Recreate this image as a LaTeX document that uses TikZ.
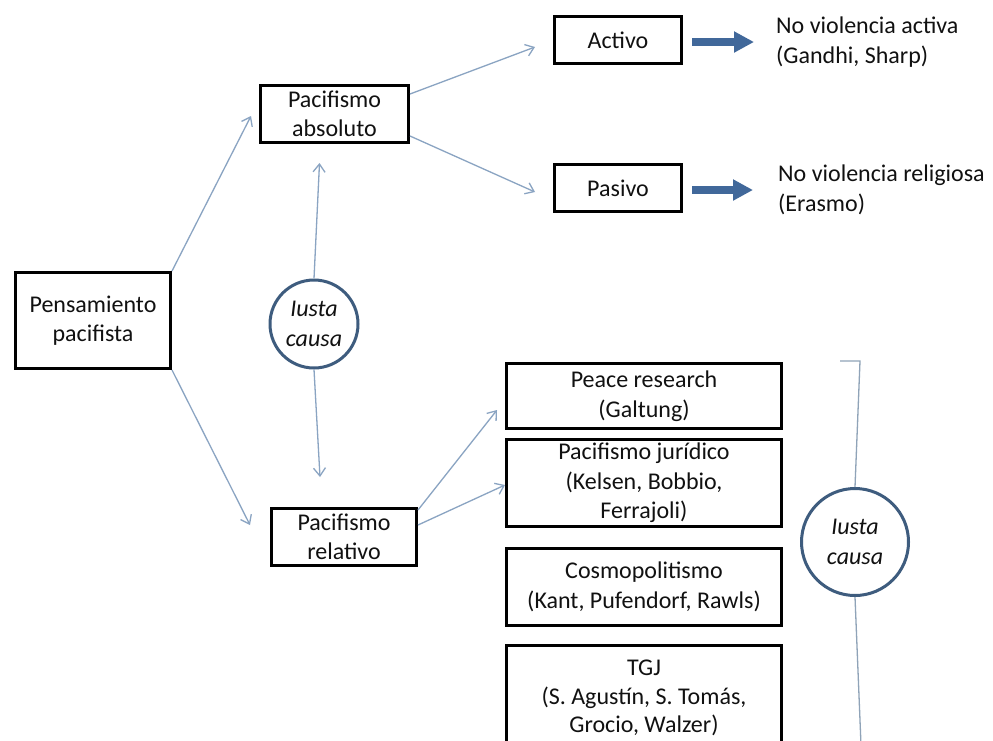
\documentclass[tikz,border=0pt]{standalone}
\usepackage{fontspec}
\setmainfont{Carlito}
\usetikzlibrary{arrows.meta,calc}
\definecolor{thinarrow}{HTML}{8AA4C2}
\definecolor{thickarrow}{HTML}{41689A}
\definecolor{circcol}{HTML}{3E5C7E}
\definecolor{bracketcol}{HTML}{8FA3B8}
\definecolor{txt}{HTML}{111111}
\begin{document}
\begin{tikzpicture}[x=1pt,y=-1pt,
  font=\fontsize{24}{29.5}\selectfont,
  box/.style={draw=black, line width=3pt, align=center, inner sep=0pt, text=txt},
  thinarr/.style={draw=thinarrow, line width=1.3pt, -{Straight Barb[length=8pt,width=12pt]}},
  thickarr/.style={draw=thickarrow, line width=8pt, -{Triangle[length=20pt,width=20pt]}},
  circnode/.style={circle, draw=circcol, line width=3pt, inner sep=0pt, align=center, text=txt,
    font=\fontsize{24}{30}\selectfont\itshape},
  bracket/.style={draw=bracketcol, line width=1.3pt},
  plaintext/.style={anchor=west, align=left, inner sep=0pt, text=txt}]
\clip (0,0) rectangle (993,740);
\fill[white] (0,0) rectangle (993,740);

\node[box, minimum width=155pt, minimum height=96pt] (pens) at (93,320.5) {Pensamiento\\pacifista};
\node[box, minimum width=148pt, minimum height=57pt] (abs) at (334.5,114) {Pacifismo\\absoluto};
\node[box, minimum width=127pt, minimum height=47pt] (activo) at (618,40) {Activo};
\node[box, minimum width=127pt, minimum height=47pt] (pasivo) at (618,188) {Pasivo};
\node[box, minimum width=145pt, minimum height=57pt] (rel) at (344,537) {Pacifismo\\relativo};
\node[box, minimum width=275pt, minimum height=65pt] (peace) at (644,396) {Peace research\\(Galtung)};
\node[box, minimum width=275pt, minimum height=87pt] (jur) at (644,483) {Pacifismo jurídico\\(Kelsen, Bobbio,\\Ferrajoli)};
\node[box, minimum width=275pt, minimum height=77pt] (cosmo) at (644,587) {Cosmopolitismo\\(Kant, Pufendorf, Rawls)};
\node[box, minimum width=275pt, minimum height=106pt, font=\fontsize{24}{28.5}\selectfont] (tgj) at (644,698) {TGJ\\(S. Agustín, S. Tomás,\\Grocio, Walzer)};

\node[plaintext] (acttxt) at (776,42) {No violencia activa\\(Gandhi, Sharp)};
\node[plaintext] (pastxt) at (778,190) {No violencia religiosa\\(Erasmo)};

\node[circnode, minimum size=88pt] (c1) at (314,324) {Iusta\\causa};
\node[circnode, minimum size=107pt] (c2) at (855,542) {Iusta\\causa};

% thin arrows
\draw[thinarr] (pens.north east) -- ($(abs.west)+(-8,2)$);
\draw[thinarr] (pens.south east) -- ($(rel.west)+(-20,-12)$);
\draw[thinarr] (c1.north) -- ($(abs.south)+(-15,19)$);
\draw[thinarr] (c1.south) -- ($(rel.north)+(-24,-30)$);
\draw[thinarr] ($(abs.north east)+(0,10)$) -- ($(activo.west)+(-18,7)$);
\draw[thinarr] ($(abs.south east)+(0,-8)$) -- ($(pasivo.west)+(-18,4)$);
\draw[thinarr] ($(rel.north east)+(0,3)$) -- ($(peace.west)+(-8,14)$);
\draw[thinarr] ($(rel.east)+(0,-12)$) -- ($(jur.west)+(0,2)$);

% thick arrows
\draw[thickarr] ($(activo.east)+(9,2)$) -- ($(acttxt.west)+(-22,0)$);
\draw[thickarr] ($(pasivo.east)+(9,2)$) -- ($(pastxt.west)+(-25,0)$);

% bracket
\coordinate (btop) at (860,361);
\coordinate (btick) at (840,361);
\coordinate (bbot) at (861,745);
\draw[bracket] (btick) -- (btop) -- (c2.north);
\draw[bracket] (c2.south) -- (bbot);
\end{tikzpicture}
\end{document}
